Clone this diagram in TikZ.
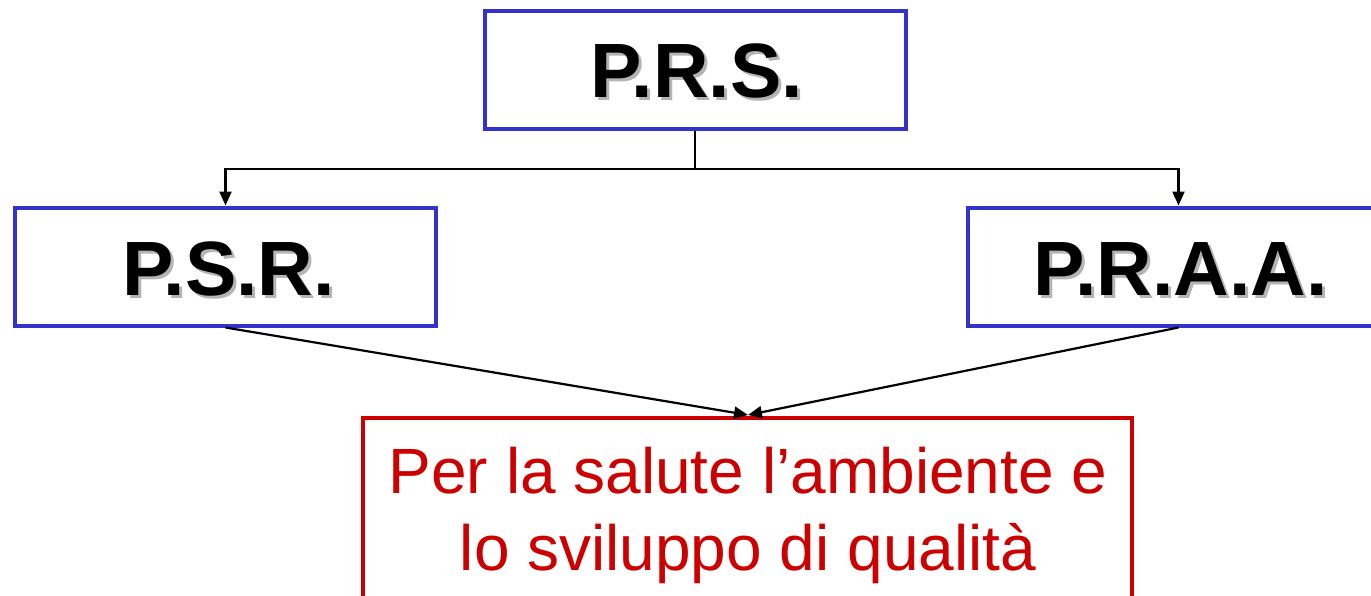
\documentclass[tikz,border=0pt]{standalone}
\usepackage{fontspec}
\setmainfont{Liberation Sans}
\usetikzlibrary{arrows.meta}
\definecolor{boxblue}{HTML}{3333CC}
\definecolor{boxred}{HTML}{CC0000}
\definecolor{shadowgray}{HTML}{B4B4B4}
\newcommand{\shadowed}[1]{\makebox[0pt][l]{\hspace*{3pt}\raisebox{-3pt}{\textcolor{shadowgray}{#1}}}#1}
\tikzset{
  bluebox/.style={draw=boxblue, line width=4pt, fill=white, inner sep=0pt, minimum width=421pt, minimum height=118pt},
  redbox/.style={draw=boxred, line width=4pt, fill=white, inner sep=0pt, minimum width=769pt, minimum height=186pt},
  bigtext/.style={font=\bfseries\fontsize{77}{77}\selectfont, text=black, inner sep=0pt},
  redtext/.style={font=\fontsize{64}{64}\selectfont, text=boxred, inner sep=0pt, anchor=base},
  conn/.style={draw=black, line width=2.2pt},
  arr/.style={conn, -{Triangle[length=14pt,width=12pt]}},
}
\begin{document}
\begin{tikzpicture}[x=1pt,y=-1pt]
\useasboundingbox (0,0) rectangle (1371,595);
% boxes
\node[bluebox] (prs) at (695,70) {};
\node[bluebox] (psr) at (225.5,266.5) {};
\node[bluebox] (praa) at (1178.5,266.5) {};
\node[redbox] (goal) at (747.5,511) {};
% texts with shadow
\node[bigtext] (prsT) at (696.5,72.5) {\shadowed{P.R.S.}};
\node[bigtext] (psrT) at (228.5,270.5) {\shadowed{P.S.R.}};
\node[bigtext] (praaT) at (1180.5,270.5) {\shadowed{P.R.A.A.}};
\node[redtext] (g1) at (748,493) {Per la salute l’ambiente e};
\node[redtext] (g2) at (748,570) {lo sviluppo di qualità};
% connectors
\draw[conn] (prs.south) -- ++(0,38) coordinate (j);
\draw[arr] (j) -| (psr.north);
\draw[arr] (j) -| (praa.north);
\coordinate (gt) at (748,415);
\draw[arr] (psr.south) -- (gt);
\draw[arr] (praa.south) -- (gt);
\end{tikzpicture}
\end{document}
